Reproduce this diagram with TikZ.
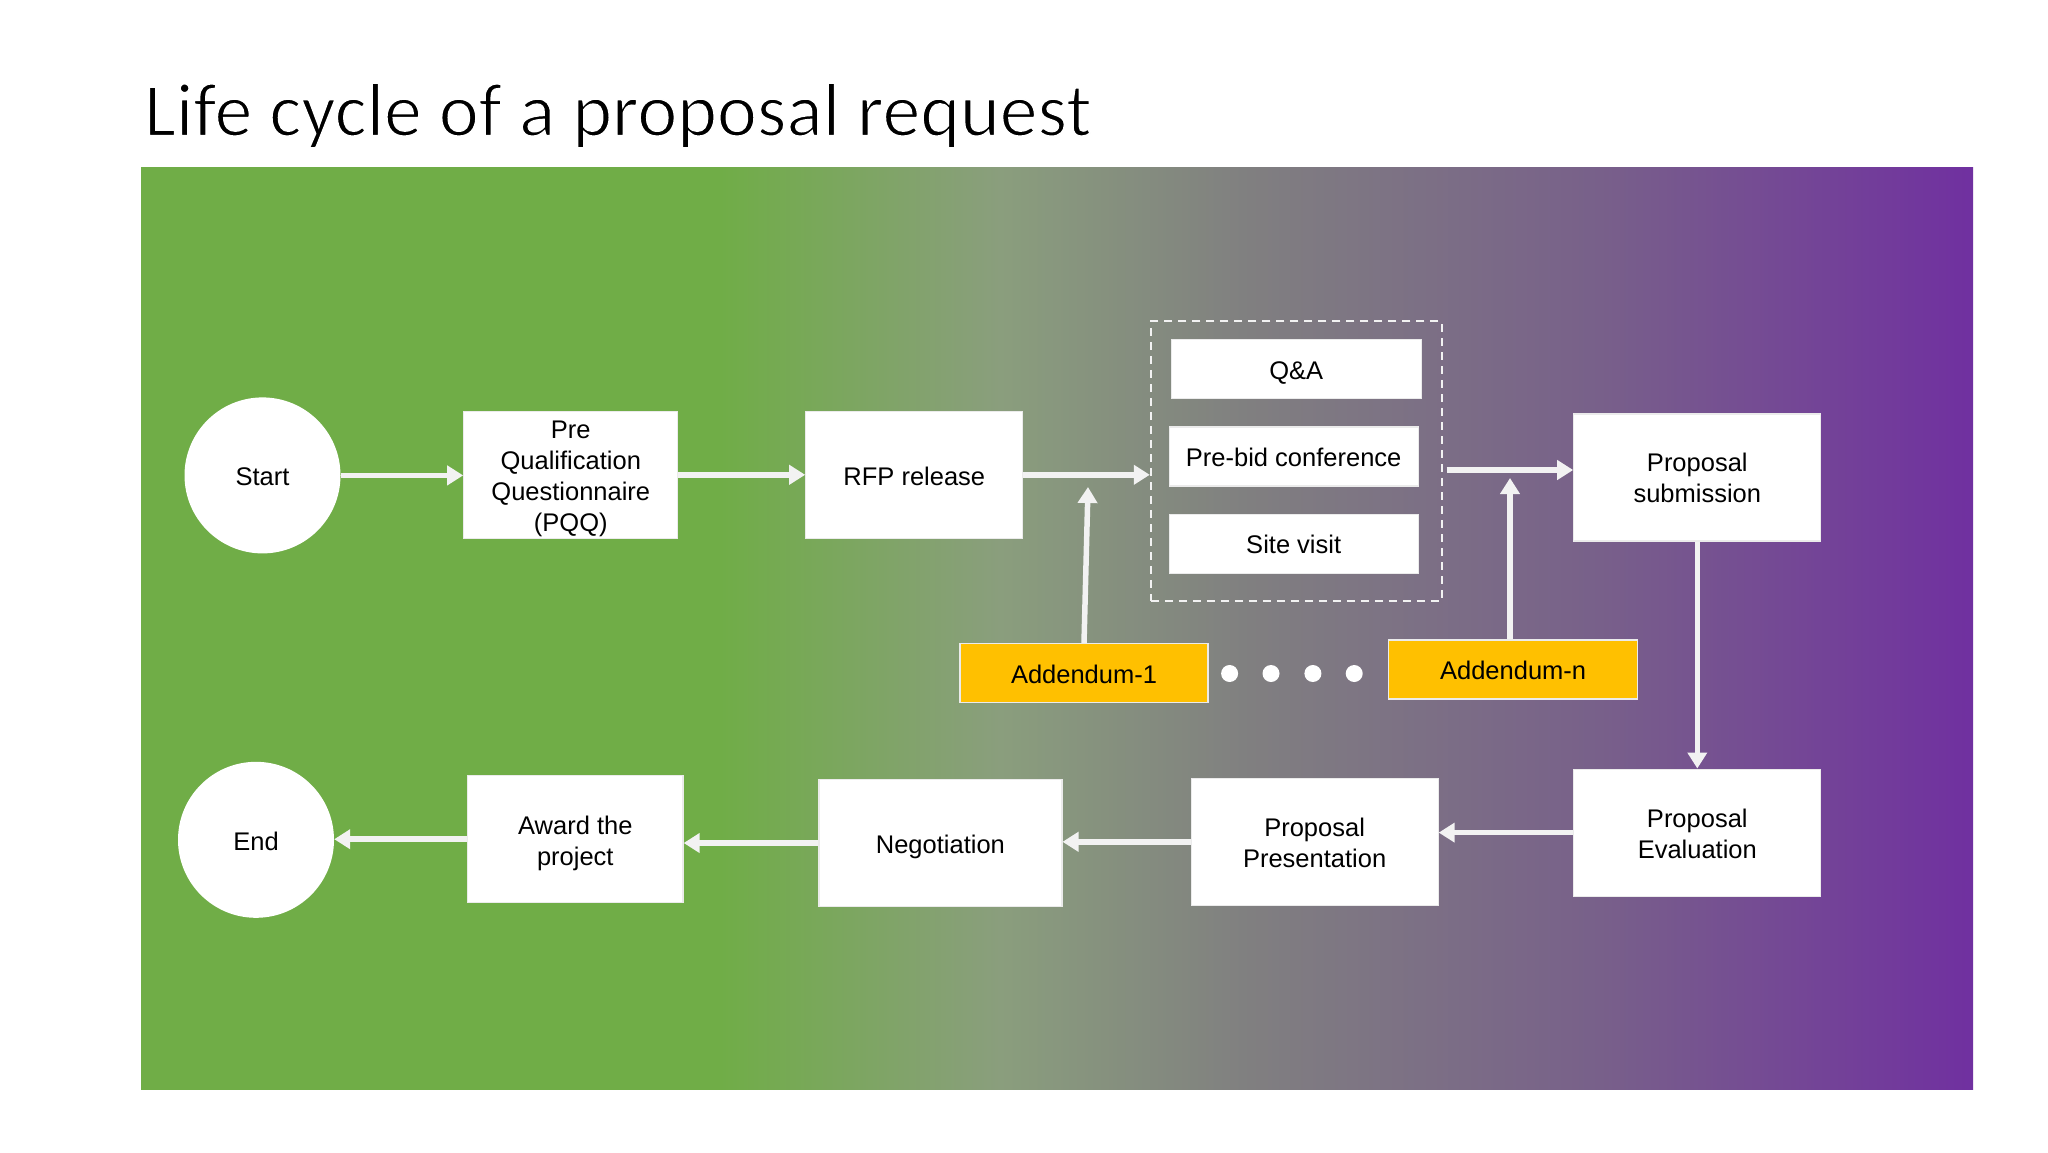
\documentclass[tikz,border=0pt]{standalone}
\usepackage{fontspec}
\setmainfont{Liberation Sans}
\newfontfamily\titlefont{Carlito}
\usetikzlibrary{arrows.meta,calc}
\definecolor{gA}{RGB}{112,173,71}
\definecolor{gB}{RGB}{138,158,125}
\definecolor{gC}{RGB}{128,127,128}
\definecolor{gD}{RGB}{120,96,138}
\definecolor{gE}{RGB}{112,48,160}
\definecolor{addc}{RGB}{255,192,0}
\definecolor{arrowc}{RGB}{242,242,242}
\definecolor{boxline}{RGB}{235,235,235}
\pgfdeclarehorizontalshading{bgshade}{100bp}{color(0bp)=(gA); color(40.8bp)=(gA); color(48.44bp)=(gB); color(55.27bp)=(gC); color(64.82bp)=(gD); color(75bp)=(gE); color(100bp)=(gE)}
\newcommand{\dn}{\rule{0pt}{26pt}}
\begin{document}
\begin{tikzpicture}[x=1pt,y=-1pt,
  txt/.style={font=\fontsize{25.5}{31}\selectfont, text=black},
  box/.style={txt, draw=boxline, line width=1.2pt, fill=white, minimum height=127, inner sep=0pt, align=center},
  subbox/.style={box, minimum height=59},
  addbox/.style={subbox, fill=addc, draw=boxline},
  ends/.style={txt, circle, fill=white, minimum size=156, inner sep=0pt},
  dot/.style={circle, fill=white, minimum size=17, inner sep=0pt},
  grpbox/.style={draw=arrowc, line width=2pt, dash pattern=on 8pt off 6pt, inner sep=0pt},
  arr/.style={draw=arrowc, line width=5.5pt, -{Triangle[length=16pt,width=19pt]}}
]
\useasboundingbox (0,0) rectangle (2048,1152);
\fill[white] (0,0) rectangle (2048,1152);
\path[shading=bgshade] (141,167) rectangle (1973,1089);
\node[anchor=base west, inner sep=0pt, font=\titlefont\fontsize{75.7}{90}\selectfont] (title) at (144,135.7) {\special{pdf:literal 2 Tr 1 1 1 RG 1.6 w}Life cycle of a proposal request\special{pdf:literal 0 Tr}};

\node[ends] (start) at (262.5,475.4) {\rule{0pt}{21pt}Start};
\node[box, minimum width=214] (pqq) at (570.8,474.8) {\dn Pre\\Qualification\\Questionnaire\\(PQQ)};
\node[box, minimum width=217] (rfp) at (914.3,474.8) {\rule{0pt}{21pt}RFP release};
\node[grpbox, minimum width=291, minimum height=279.5] (grp) at (1296.3,461) {};
\node[subbox, minimum width=250] (qa) at (1296.3,369) {\dn Q\&A};
\node[subbox, minimum width=249] (prebid) at (1293.7,456.5) {\rule{0pt}{21pt}Pre-bid conference};
\node[subbox, minimum width=249] (site) at (1293.7,544) {Site visit};
\node[box, minimum width=247] (psub) at (1697.3,477.4) {Proposal\\submission};
\node[addbox, minimum width=248] (add1) at (1084,673.3) {\rule{0pt}{21pt}Addendum-1};
\node[addbox, minimum width=249] (addn) at (1513.1,669.4) {\rule{0pt}{21pt}Addendum-n};
\node[dot] (d1) at (1229.6,673.5) {};
\node[dot] (d2) at (1271,673.5) {};
\node[dot] (d3) at (1312.9,673.5) {};
\node[dot] (d4) at (1354.2,673.5) {};

\node[ends] (end) at (256,839.8) {\rule{0pt}{21pt}End};
\node[box, minimum width=215.5] (award) at (575.3,839.2) {\dn Award the\\project};
\node[box, minimum width=243] (neg) at (940.4,843) {\dn Negotiation};
\node[box, minimum width=247] (pres) at (1314.6,841.8) {\rule{0pt}{21pt}Proposal\\Presentation};
\node[box, minimum width=247] (peval) at (1697.3,832.6) {\rule{0pt}{21pt}Proposal\\Evaluation};

\coordinate (a1tip) at (1088,487);
\coordinate (gout) at (1446.7,470);
\coordinate (antip) at (1510,478);

\draw[arr] (start.east) -- (start.east -| pqq.west);
\draw[arr] (pqq.east) -- (pqq.east -| rfp.west);
\draw[arr] (rfp.east) -- (rfp.east -| grp.west);
\draw[arr] (add1.north) -- (a1tip);
\draw[arr] (gout) -- (gout -| psub.west);
\draw[arr] (addn.north -| antip) -- (antip);
\draw[arr] (psub.south) -- (peval.north);
\draw[arr] (peval.west) -- (peval.west -| pres.east);
\draw[arr] (pres.west) -- (pres.west -| neg.east);
\draw[arr] (neg.west) -- (neg.west -| award.east);
\draw[arr] (award.west) -- (award.west -| end.east);
\end{tikzpicture}
\end{document}
